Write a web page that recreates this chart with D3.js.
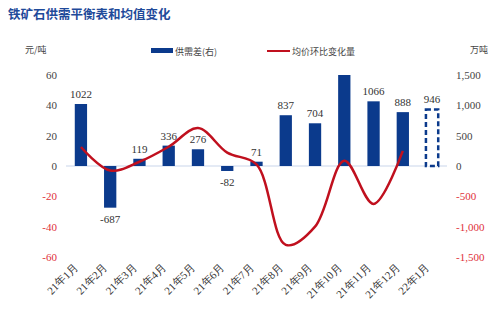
<!DOCTYPE html>
<html><head><meta charset="utf-8">
<script src="https://cdn.jsdelivr.net/npm/d3@7"></script>
<style>body{margin:0;background:#fff}svg{display:block}</style>
</head><body>
<svg id="c" width="500" height="323"></svg>
<script>
const categories = ["21年1月","21年2月","21年3月","21年4月","21年5月","21年6月","21年7月","21年8月","21年9月","21年10月","21年11月","21年12月","22年1月"];
const supplyGap = [1022,-687,119,336,276,-82,71,837,704,1500,1066,888,946];
const barLabels = ["1022","-687","119","336","276","-82","71","837","704","","1066","888","946"];
const forecast = [false,false,false,false,false,false,false,false,false,false,false,false,true];
const priceChange = [12.5,-3,2.8,12.7,25,8.8,1,-52,-40,3.5,-25,10];
const leftTicks = [-60,-40,-20,0,20,40,60];
const rightTicks = [-1500,-1000,-500,0,500,1000,1500];

const svg = d3.select("#c");
const serif = "'Liberation Serif','Times New Roman',serif";
const cjk = "'Noto Sans CJK SC',sans-serif";
const blue = "#0b3a8c", red = "#c0101e";

const x = d3.scaleBand().domain(categories).range([66,447]).paddingInner(0.58).paddingOuter(0.3);
const yL = d3.scaleLinear().domain([-60,60]).range([257,75]);
const yR = d3.scaleLinear().domain([-1500,1500]).range([257,75]);

const fmtComma = d3.formatLocale({decimal:".",thousands:",",grouping:[3],currency:["",""],minus:"-"}).format(",");

// title
svg.append("text").attr("x",8).attr("y",19).attr("font-family",cjk).attr("font-weight","bold")
  .attr("font-size",12.5).attr("fill","#1f4a9a").text("铁矿石供需平衡表和均值变化");
svg.append("text").attr("x",25).attr("y",53).attr("font-family",cjk).attr("font-size",9).attr("fill","#444").text("元/吨");
svg.append("text").attr("x",470).attr("y",53).attr("font-family",cjk).attr("font-size",9).attr("fill","#444").text("万吨");

// legend
svg.append("rect").attr("x",151).attr("y",48).attr("width",22).attr("height",5).attr("fill",blue);
svg.append("text").attr("x",175).attr("y",55).attr("font-family",cjk).attr("font-size",9).attr("fill","#444").text("供需差(右)");
svg.append("line").attr("x1",267).attr("x2",290).attr("y1",51).attr("y2",51).attr("stroke",red).attr("stroke-width",2);
svg.append("text").attr("x",292).attr("y",55).attr("font-family",cjk).attr("font-size",9).attr("fill","#444").text("均价环比变化量");

// axes
const gL = svg.append("g").attr("transform","translate(57,0)")
  .call(d3.axisLeft(yL).tickValues(leftTicks).tickSize(0).tickPadding(0).tickFormat(d=>String(d)));
gL.select(".domain").remove();
gL.selectAll("text").attr("font-family",serif).attr("font-size",11).attr("fill",d=>d<0?"#e0303a":"#444");

const gR = svg.append("g").attr("transform","translate(456,0)")
  .call(d3.axisRight(yR).tickValues(rightTicks).tickSize(0).tickPadding(0).tickFormat(fmtComma));
gR.select(".domain").remove();
gR.selectAll("text").attr("font-family",serif).attr("font-size",11).attr("fill",d=>d<0?"#e0303a":"#444");

// zero line
svg.append("line").attr("x1",66).attr("x2",447).attr("y1",yR(0)).attr("y2",yR(0)).attr("stroke","#c9d5ea").attr("stroke-width",1);

// bars
const bw = x.bandwidth();
svg.append("g").selectAll("rect").data(categories).join("rect")
  .attr("x",d=>x(d)).attr("width",bw)
  .attr("y",(d,i)=>forecast[i]?yR(Math.max(0,supplyGap[i]))+1:yR(Math.max(0,supplyGap[i])))
  .attr("height",(d,i)=>Math.abs(yR(supplyGap[i])-yR(0))-(forecast[i]?1:0))
  .attr("fill",(d,i)=>forecast[i]?"#fff":blue)
  .attr("stroke",(d,i)=>forecast[i]?blue:"none")
  .attr("stroke-width",2.5)
  .attr("stroke-dasharray",(d,i)=>forecast[i]?"5,3":null);

// bar labels
svg.append("g").selectAll("text").data(categories).join("text")
  .attr("x",d=>x(d)+bw/2)
  .attr("y",(d,i)=>supplyGap[i]>=0?yR(supplyGap[i])-6:yR(supplyGap[i])+15)
  .attr("text-anchor","middle").attr("font-family",serif).attr("font-size",11).attr("fill","#333")
  .text((d,i)=>barLabels[i]);

// line
const line = d3.line().x((d,i)=>x(categories[i])+bw/2).y(d=>yL(d)).curve(d3.curveCatmullRom.alpha(0.5));
svg.append("path").datum(priceChange).attr("d",line).attr("fill","none").attr("stroke",red).attr("stroke-width",2.5);

// x labels
svg.append("g").selectAll("text").data(categories).join("text")
  .attr("transform",d=>`translate(${x(d)+bw/2-2},${268}) rotate(-45)`)
  .attr("text-anchor","end").attr("font-family",serif).attr("font-size",11).attr("fill","#333")
  .text(d=>d);
</script>
</body></html>
